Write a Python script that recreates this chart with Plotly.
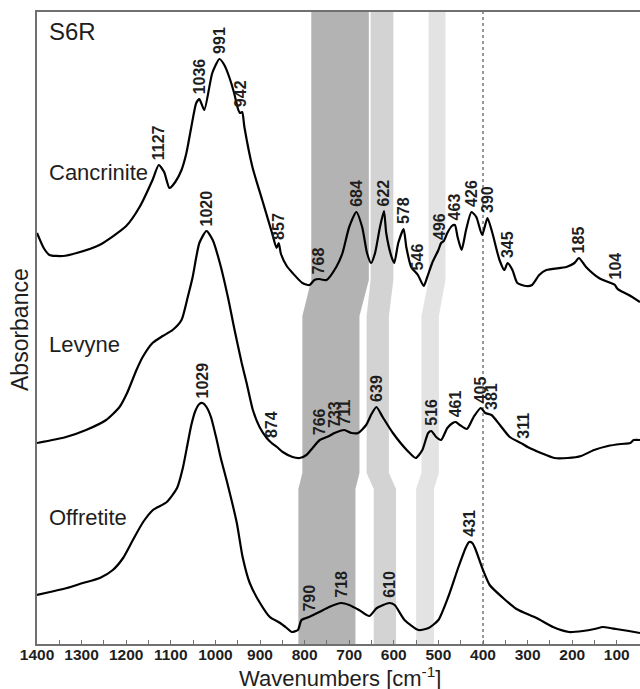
import numpy as np
import plotly.graph_objects as go

# ---------------- data (wavenumber in cm-1, absorbance in arbitrary units) ----------------
cancrinite_x = [1400, 1385, 1372, 1342, 1311, 1260, 1200, 1170, 1141, 1127, 1115, 1103, 1090, 1076, 1065,
                1054, 1043, 1036, 1025, 1007, 991, 980, 969, 958, 950, 945, 940, 935, 917, 895, 873, 863,
                858, 853, 840, 827, 805, 789, 778, 768, 751, 729, 715, 700, 684, 671, 660, 651, 642, 631,
                622, 617, 605, 599, 590, 578, 572, 561, 546, 533, 525, 514, 500, 494, 488, 480, 470, 463,
                457, 448, 438, 426, 415, 402, 390, 379, 363, 352, 345, 334, 323, 303, 290, 274, 258, 213,
                195, 185, 169, 140, 108, 104, 100, 95, 73, 48]
cancrinite_y = [411, 396, 389, 388, 391, 399, 418, 437, 464, 479, 472, 456, 462, 474, 491,
                517, 541, 545, 534, 571, 585, 579, 567, 551, 536, 531, 532, 517, 477, 444, 411, 396,
                401, 390, 378, 371, 361, 359, 364, 365, 364, 377, 391, 417, 432, 417, 391, 381, 391, 417,
                433, 411, 387, 381, 401, 415, 397, 377, 369, 358, 367, 381, 394, 401, 403, 411, 418, 419,
                407, 394, 414, 432, 427, 409, 426, 411, 384, 374, 381, 374, 361, 358, 359, 369, 374, 377,
                381, 386, 377, 366, 360, 359, 356, 354, 349, 342]

levyne_x = [1400, 1335, 1290, 1245, 1215, 1198, 1177, 1163, 1141, 1118, 1096, 1076, 1062, 1051, 1036,
            1020, 1006, 990, 972, 957, 941, 930, 916, 901, 885, 874, 862, 849, 827, 811, 796, 782, 766,
            745, 733, 711, 695, 680, 662, 650, 639, 625, 602, 571, 551, 536, 523, 516, 505, 494, 480,
            468, 461, 452, 436, 421, 405, 395, 381, 362, 340, 311, 300, 270, 240, 210, 180, 151, 120,
            91, 70, 62, 48]
levyne_y = [201, 207, 214, 224, 237, 251, 274, 287, 301, 308, 314, 324, 347, 367, 401,
            413, 404, 381, 347, 314, 281, 261, 234, 217, 206, 201, 197, 192, 187, 186, 189, 196, 204,
            208, 211, 214, 211, 211, 219, 230, 237, 227, 211, 194, 186, 194, 211, 213, 207, 204, 216,
            221, 222, 219, 215, 227, 236, 231, 229, 219, 207, 200, 197, 191, 186, 186, 188, 194, 198,
            200, 201, 204, 204]

offretite_x = [1400, 1371, 1333, 1297, 1259, 1230, 1207, 1185, 1162, 1140, 1109, 1086, 1073, 1062, 1054,
               1045, 1036, 1029, 1020, 1010, 997, 988, 975, 952, 939, 923, 900, 878, 855, 840, 829, 815,
               807, 790, 767, 745, 718, 700, 678, 655, 638, 610, 598, 576, 545, 522, 500, 478, 455, 438,
               431, 424, 418, 400, 385, 355, 325, 280, 243, 207, 176, 150, 131, 115, 102, 73, 48]
offretite_y = [49, 52, 56, 61, 66, 74, 86, 104, 122, 134, 142, 156, 176, 201, 219,
               233, 240, 241, 237, 227, 204, 186, 164, 121, 87, 61, 41, 27, 21, 16, 12, 14,
               24, 27, 32, 37, 41, 39, 34, 28, 36, 41, 39, 24, 14, 16, 24, 47, 77, 97,
               102, 101, 96, 74, 59, 46, 35, 26, 17, 12, 13, 15, 17, 16, 15, 13, 11]

cancrinite_peaks = [1127, 1036, 991, 942, 857, 768, 684, 622, 578, 546, 496, 463, 426, 390, 345, 185, 104]
levyne_peaks = [1020, 874, 766, 733, 711, 639, 516, 461, 405, 381, 311]
offretite_peaks = [1029, 790, 718, 610, 431]

spectrum_names = ["Cancrinite", "Levyne", "Offretite"]

# band edges (left, right) in cm-1 at the Cancrinite, Levyne and Offretite levels
band_dark = [(785, 656), (805, 677), (814, 686)]
band_mid = [(652, 601), (661, 611), (645, 595)]
band_light = [(522, 484), (538, 499), (550, 510)]
band_colors = ["#b3b3b3", "#d3d3d3", "#e3e3e3"]

x_tick_vals = list(range(1400, 99, -100))
marker_line = 400

# ---------------- geometry ----------------
W, H = 640, 689
ML, MR, MT, MB = 37, 0, 12, 45
Y_MAX = 632
FONT = "Liberation Sans"
TXT = "#1e1e1e"
AX = "#707070"


def px(xp):
    return (xp - ML) / (W - ML - MR)


def py(yp):
    return (H - MB - yp) / (H - MT - MB)


fig = go.Figure()

# shaded bands; transition heights: Cancrinite->Levyne and Levyne->Offretite
t1_top, t1_bot = 364, 328
t2_top, t2_bot = 171, 155
for band, col in zip([band_dark, band_mid, band_light], band_colors):
    (cl, cr), (ll, lr), (ol, orr) = band
    pts = [(cl, Y_MAX), (cr, Y_MAX), (cr, t1_top), (lr, t1_bot), (lr, t2_top), (orr, t2_bot),
           (orr, 0), (ol, 0), (ol, t2_bot), (ll, t2_top), (ll, t1_bot), (cl, t1_top)]
    path = "M " + " L ".join(f"{a},{b}" for a, b in pts) + " Z"
    fig.add_shape(type="path", path=path, xref="x", yref="y", fillcolor=col,
                  line=dict(width=0), layer="below")

# dotted line at 400
fig.add_shape(type="line", x0=marker_line, x1=marker_line, y0=0, y1=Y_MAX, xref="x", yref="y",
              line=dict(color="#333333", width=1, dash="dot"), layer="below")

series = [(cancrinite_x, cancrinite_y, cancrinite_peaks),
          (levyne_x, levyne_y, levyne_peaks),
          (offretite_x, offretite_y, offretite_peaks)]

for name, (xs, ys, peaks) in zip(spectrum_names, series):
    assert len(xs) == len(ys), name
    fig.add_trace(go.Scatter(x=xs, y=ys, mode="lines", name=name,
                             line=dict(color="black", width=2.2, shape="spline", smoothing=0.6),
                             showlegend=False, hoverinfo="skip"))
    xa = np.array(xs[::-1], dtype=float)
    ya = np.array(ys[::-1], dtype=float)
    for p in peaks:
        yv = float(np.interp(p, xa, ya))
        fig.add_annotation(x=p, y=yv, xref="x", yref="y", text=str(p), showarrow=False,
                           textangle=-90, xanchor="center", yanchor="bottom", yshift=3,
                           font=dict(family=FONT, size=16, color=TXT, weight="bold"))

# spectrum names
name_y = [172, 345, 517]
for name, yy in zip(spectrum_names, name_y):
    fig.add_annotation(x=px(47), y=py(yy), xref="paper", yref="paper", text=name, showarrow=False,
                       xanchor="left", yanchor="middle", font=dict(family=FONT, size=22, color=TXT))

fig.add_annotation(x=px(47), y=py(32), xref="paper", yref="paper", text="S6R", showarrow=False,
                   xanchor="left", yanchor="middle", font=dict(family=FONT, size=24, color=TXT))

fig.add_annotation(x=px(20), y=py(330), xref="paper", yref="paper", text="Absorbance", showarrow=False,
                   textangle=-90, xanchor="center", yanchor="middle",
                   font=dict(family=FONT, size=23, color=TXT))

fig.add_annotation(x=px(340), y=py(689), xref="paper", yref="paper",
                   text="Wavenumbers [cm<sup>-1</sup>]", showarrow=False, yshift=-4,
                   xanchor="center", yanchor="bottom", font=dict(family=FONT, size=22, color=TXT))

fig.update_layout(
    width=W, height=H, margin=dict(l=ML, r=MR, t=MT, b=MB),
    paper_bgcolor="white", plot_bgcolor="white",
    xaxis=dict(range=[1400, 48], showline=True, mirror=True, linecolor=AX, linewidth=1.5,
               ticks="inside", ticklen=4, tickcolor=AX, tickwidth=1,
               tickvals=x_tick_vals, ticktext=[str(v) for v in x_tick_vals],
               ticklabelstandoff=-4,
               tickfont=dict(family=FONT, size=15.5, color=TXT, weight="bold"),
               minor=dict(dtick=50, tick0=0, ticks="inside", ticklen=4, tickcolor=AX, tickwidth=1),
               showgrid=False, zeroline=False),
    yaxis=dict(range=[0, Y_MAX], showline=True, mirror=False, linecolor=AX, linewidth=1.5,
               showticklabels=False, ticks="", showgrid=False, zeroline=False),
)

fig.write_html("out.html")
